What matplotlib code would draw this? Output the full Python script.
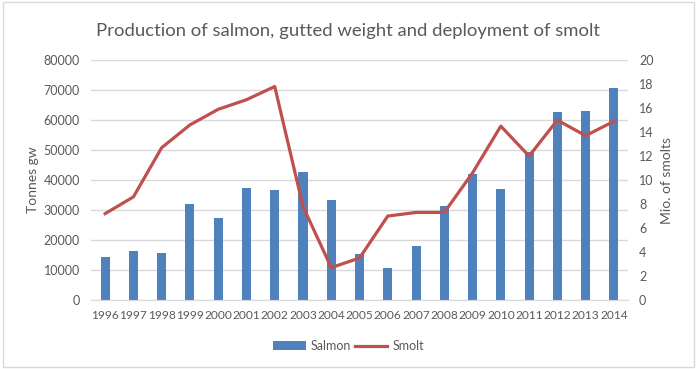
import matplotlib.pyplot as plt
from matplotlib.patches import Rectangle

# Data
years = ['1996', '1997', '1998', '1999', '2000', '2001', '2002', '2003', '2004', '2005',
         '2006', '2007', '2008', '2009', '2010', '2011', '2012', '2013', '2014']
salmon = [14300, 16400, 15700, 32000, 27300, 37400, 36700, 42800, 33400, 15300,
          10700, 18000, 31400, 41900, 37100, 49400, 62700, 63000, 70700]
smolt = [7.2, 8.6, 12.7, 14.6, 15.9, 16.7, 17.8, 7.8, 2.7, 3.5,
         7.0, 7.3, 7.3, 10.6, 14.5, 12.0, 15.0, 13.7, 14.9]

plt.rcParams['font.family'] = ['Lato', 'DejaVu Sans']
gray = '#595959'

fig = plt.figure(figsize=(6.97, 3.69), dpi=100)
ax = fig.add_axes([0.1306, 0.187, 0.7704, 0.65])
ax2 = ax.twinx()

x = list(range(len(years)))
ax.bar(x, salmon, width=0.32, color='#4F81BD', label='Salmon', zorder=2)
ax2.plot(x, smolt, color='#C0504D', lw=2.3, label='Smolt', zorder=3)

ax.set_xlim(-0.5, len(years) - 0.5)
ax.set_ylim(0, 80000)
ax.set_yticks(range(0, 80001, 10000))
ax2.set_ylim(0, 20)
ax2.set_yticks(range(0, 21, 2))
ax.set_xticks(x)
ax.set_xticklabels(years)

ax.grid(axis='y', color='#d9d9d9', lw=1, zorder=0)
ax.set_axisbelow(True)
for a in (ax, ax2):
    for s in a.spines.values():
        s.set_visible(False)
    a.tick_params(length=0, labelsize=9, colors=gray)
ax.tick_params(axis='x', labelsize=8.6, pad=7)
ax.spines['bottom'].set_visible(True)
ax.spines['bottom'].set_color('#d9d9d9')
ax.tick_params(axis='y', pad=8)
ax2.tick_params(axis='y', pad=8)

ax.set_ylabel('Tonnes gw', fontsize=10, color=gray, labelpad=3)
ax2.set_ylabel('Mio. of smolts', fontsize=10, color=gray, labelpad=5)

fig.text(0.5, 0.915, 'Production of salmon, gutted weight and deployment of smolt',
         ha='center', va='center', fontsize=13.3, color=gray)

h1, l1 = ax.get_legend_handles_labels()
h2, l2 = ax2.get_legend_handles_labels()
fig.legend(h1 + h2, l1 + l2, loc='center', bbox_to_anchor=(0.5, 0.062), ncol=2,
           frameon=False, fontsize=9, labelcolor=gray, handlelength=2.6,
           handletextpad=0.4, columnspacing=0.3)

fig.patches.append(Rectangle((0.004, 0.006), 0.992, 0.988, transform=fig.transFigure,
                             fill=False, edgecolor='#d9d9d9', lw=1))

fig.savefig('out.png', dpi=100)
